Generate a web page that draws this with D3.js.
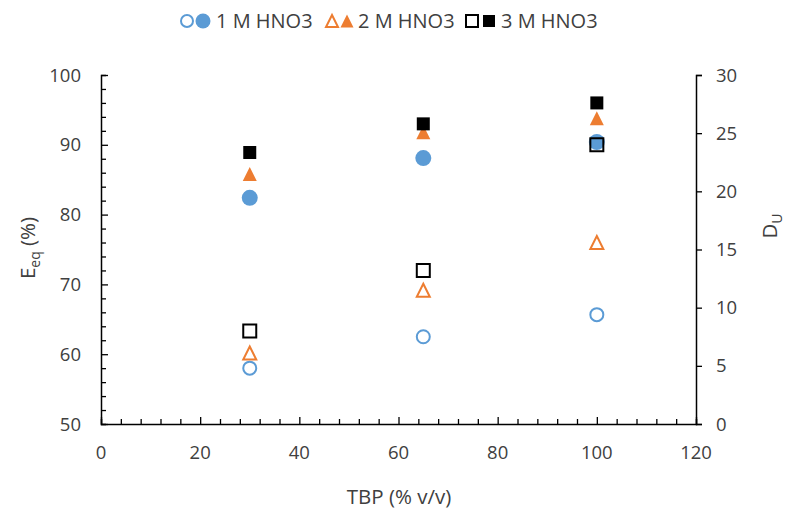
<!DOCTYPE html>
<html>
<head>
<meta charset="utf-8">
<script src="https://cdn.jsdelivr.net/npm/d3@7"></script>
<style>
	body { margin: 0; background: #fff; }
	text { font-family: "Open Sans", "DejaVu Sans", sans-serif; fill: #404040; }
</style>
</head>
<body>
<svg id="plot" width="792" height="515"></svg>
<script>

// TBP concentration (% v/v)
const TBP = [30, 65, 100];

// extraction efficiency E_eq (%), left axis (filled markers)
const EEQ_1M = [82.4, 88.1, 90.4];
const EEQ_2M = [85.8, 91.8, 93.8];
const EEQ_3M = [88.9, 93.0, 96.0];

// distribution ratio D_U, right axis (open markers)
const DU_1M = [4.8, 7.5, 9.4];
const DU_2M = [6.1, 11.5, 15.6];
const DU_3M = [8.0, 13.2, 24.0];

const X_TICKS = [0, 20, 40, 60, 80, 100, 120];
const Y_LEFT_TICKS = [50, 60, 70, 80, 90, 100];
const Y_RIGHT_TICKS = [0, 5, 10, 15, 20, 25, 30];

const BLUE = '#5B9BD5';
const ORANGE = '#ED7D31';
const BLACK = '#000000';

// marker path centred on 0,0
function markerPath(shape, s) {
	const h = s / 2;
	if (shape === 'circle') {
		const p = d3.path();
		p.arc(0, 0, h, 0, 2 * Math.PI);
		return p.toString();
	}
	if (shape === 'square') {
		return `M${-h},${-h}H${h}V${h}H${-h}Z`;
	}
	// triangle, bounding box centred
	return `M0,${-h}L${h},${h}L${-h},${h}Z`;
}

const svg = d3.select('#plot');
const L = 101, R = 696, T = 75, B = 424;

const x = d3.scaleLinear().domain([0, 120]).range([L, R]);
const yL = d3.scaleLinear().domain([50, 100]).range([B, T]);
const yR = d3.scaleLinear().domain([0, 30]).range([B, T]);

// series in legend order
const SERIES = [
	{ vals: DU_1M, scale: yR, shape: 'circle', color: BLUE, open: true, size: 13 },
	{ vals: EEQ_1M, scale: yL, shape: 'circle', color: BLUE, open: false, size: 16 },
	{ vals: DU_2M, scale: yR, shape: 'triangle', color: ORANGE, open: true, size: 13 },
	{ vals: EEQ_2M, scale: yL, shape: 'triangle', color: ORANGE, open: false, size: 14 },
	{ vals: DU_3M, scale: yR, shape: 'square', color: BLACK, open: true, size: 13 },
	{ vals: EEQ_3M, scale: yL, shape: 'square', color: BLACK, open: false, size: 13 }
];

// axes
const axisG = svg.append('g');

// x axis: ticks inside
axisG.append('g')
	.attr('transform', `translate(0,${B})`)
	.call(d3.axisTop(x).tickValues(d3.range(0, 121, 4)).tickSize(5).tickFormat(''))
	.call(g => g.selectAll('.tick line').filter(d => d % 20 === 0).attr('y2', -7));

axisG.append('g')
	.selectAll('text')
	.data(X_TICKS)
	.enter()
	.append('text')
		.attr('x', d => x(d))
		.attr('y', 459)
		.attr('text-anchor', 'middle')
		.style('font-size', '18.5px')
		.text(d => d);

// left axis: ticks inside
axisG.append('g')
	.attr('transform', `translate(${L},0)`)
	.call(d3.axisRight(yL).tickValues(d3.range(50, 101, 2)).tickSize(5).tickFormat(''))
	.call(g => g.selectAll('.tick line').filter(d => d % 10 === 0).attr('x2', 7));

axisG.append('g')
	.selectAll('text')
	.data(Y_LEFT_TICKS)
	.enter()
	.append('text')
		.attr('x', 81)
		.attr('y', d => yL(d) + 6.5)
		.attr('text-anchor', 'end')
		.style('font-size', '18.5px')
		.text(d => d);

// right axis: ticks outside
axisG.append('g')
	.attr('transform', `translate(${R},0)`)
	.call(d3.axisRight(yR).tickValues(Y_RIGHT_TICKS).tickSize(6).tickFormat(''));

axisG.append('g')
	.selectAll('text')
	.data(Y_RIGHT_TICKS)
	.enter()
	.append('text')
		.attr('x', 716)
		.attr('y', d => yR(d) + 6.5)
		.attr('text-anchor', 'start')
		.style('font-size', '18.5px')
		.text(d => d);

axisG.selectAll('.domain').attr('stroke', '#000').attr('stroke-width', 1.5);
axisG.selectAll('.tick line').attr('stroke', '#000').attr('stroke-width', 1.3);

// axis titles
svg.append('text')
	.attr('x', 399)
	.attr('y', 504)
	.attr('text-anchor', 'middle')
	.style('font-size', '20.5px')
	.text('TBP (% v/v)');

const leftTitle = svg.append('text')
	.attr('transform', 'translate(35,248) rotate(-90)')
	.attr('text-anchor', 'middle')
	.style('font-size', '20.5px');
leftTitle.append('tspan').text('E');
leftTitle.append('tspan').attr('dy', 5).style('font-size', '14px').text('eq');
leftTitle.append('tspan').attr('dy', -5).text(' (%)');

const rightTitle = svg.append('text')
	.attr('transform', 'translate(777,226) rotate(-90)')
	.attr('text-anchor', 'middle')
	.style('font-size', '20.5px');
rightTitle.append('tspan').text('D');
rightTitle.append('tspan').attr('dy', 5).style('font-size', '14px').text('U');

// markers
SERIES.forEach(s => {
	svg.append('g')
		.selectAll('path')
		.data(TBP.map((t, i) => ({ x: t, y: s.vals[i] })))
		.enter()
		.append('path')
			.attr('d', markerPath(s.shape, s.size))
			.attr('transform', d => `translate(${x(d.x)},${s.scale(d.y)})`)
			.attr('fill', s.open ? '#fff' : s.color)
			.attr('fill-opacity', s.open ? 0 : 1)
			.attr('stroke', s.color)
			.attr('stroke-width', s.open ? 2 : 0);
});

// legend
const LEGEND = [
	{ label: '1 M HNO3', a: 0, b: 1, x0: 187, x1: 203, tx: 216 },
	{ label: '2 M HNO3', a: 2, b: 3, x0: 332, x1: 347, tx: 358 },
	{ label: '3 M HNO3', a: 4, b: 5, x0: 472, x1: 489, tx: 501 }
];

const legend = svg.append('g');
LEGEND.forEach(l => {
	[[l.a, l.x0], [l.b, l.x1]].forEach(([k, lx]) => {
		const s = SERIES[k];
		legend.append('path')
			.attr('d', markerPath(s.shape, s.open ? 12 : s.size - 1))
			.attr('transform', `translate(${lx},21)`)
			.attr('fill', s.open ? 'none' : s.color)
			.attr('stroke', s.color)
			.attr('stroke-width', s.open ? 2 : 0);
	});
	legend.append('text')
		.attr('x', l.tx)
		.attr('y', 28)
		.style('font-size', '20px')
		.text(l.label);
});
</script>
</body>
</html>
